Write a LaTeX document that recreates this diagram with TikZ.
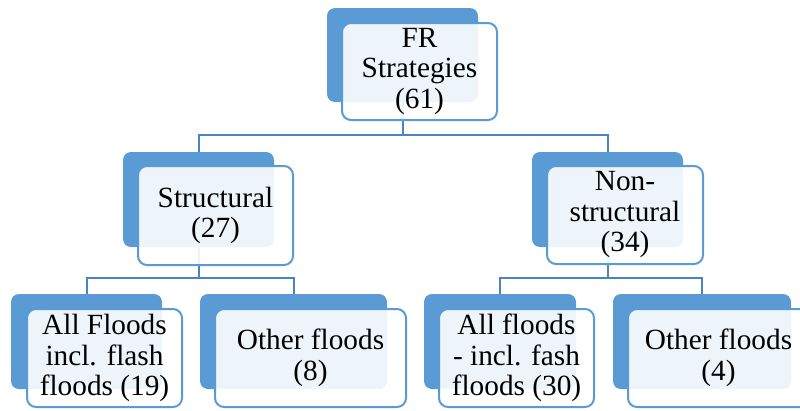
\documentclass[tikz,border=0pt]{standalone}
\usepackage{fontspec}
\setmainfont{Liberation Serif}
\newfontfamily\timesx{Liberation Serif}
\definecolor{accblue}{HTML}{5B9BD5}
\definecolor{linkblue}{HTML}{4A84C2}
\begin{document}
\begin{tikzpicture}[x=1pt,y=-1pt,
  backbox/.style={draw=none,fill=accblue,rounded corners=8pt,inner sep=0pt},
  frontbox/.style={draw=accblue,line width=2pt,fill=white,fill opacity=0.9,text opacity=1,rounded corners=9pt,inner sep=0pt,align=center,font=\timesx\fontsize{29.3}{30.5}\selectfont},
  link/.style={draw=linkblue,line width=2pt}]
\useasboundingbox (0,0) rectangle (800,410);
\clip (0,0) rectangle (800,410);
% bus coordinates
\coordinate (bus0) at (0,135);
\coordinate (bus1) at (0,278);
% back boxes
\node[backbox,minimum width=151pt,minimum height=94pt] (b0) at (402.5,55) {};
\node[backbox,minimum width=151pt,minimum height=95pt] (b1) at (198.5,199.5) {};
\node[backbox,minimum width=151pt,minimum height=95pt] (b2) at (607.5,199.5) {};
\node[backbox,minimum width=151pt,minimum height=95pt] (b3) at (86.5,341.5) {};
\node[backbox,minimum width=187pt,minimum height=95pt] (b4) at (293.5,341.5) {};
\node[backbox,minimum width=152pt,minimum height=95pt] (b5) at (500,341.5) {};
\node[backbox,minimum width=178pt,minimum height=95pt] (b6) at (702,341.5) {};
% connectors
\draw[link] (b0.south) -- (b0.south |- bus0) -| (b1.north);
\draw[link] (b0.south |- bus0) -| (b2.north);
\draw[link] (b1.south) -- (b1.south |- bus1) -| (b3.north);
\draw[link] (b1.south |- bus1) -| (b4.north);
\draw[link] (b2.south) -- (b2.south |- bus1) -| (b5.north);
\draw[link] (b2.south |- bus1) -| (b6.north);
% front boxes
\node[frontbox,minimum width=155pt,minimum height=97pt] (f0) at (419.5,71.5) {FR\\Strategies\\(61)};
\node[frontbox,minimum width=155pt,minimum height=99pt] (f1) at (215.5,215.5) {Structural\\(27)};
\node[frontbox,minimum width=156pt,minimum height=98pt] (f2) at (625,215) {Non-\\structural\\(34)};
\node[frontbox,minimum width=155pt,minimum height=98pt] (f3) at (104.5,358) {All Floods\\incl. flash\\floods (19)};
\node[frontbox,minimum width=191pt,minimum height=98pt] (f4) at (310.5,358) {Other floods\\(8)};
\node[frontbox,minimum width=155pt,minimum height=98pt] (f5) at (516.5,358) {All floods\\- incl. fash\\floods (30)};
\node[frontbox,minimum width=181pt,minimum height=98pt] (f6) at (718.5,358) {Other floods\\(4)};
\end{tikzpicture}
\end{document}
